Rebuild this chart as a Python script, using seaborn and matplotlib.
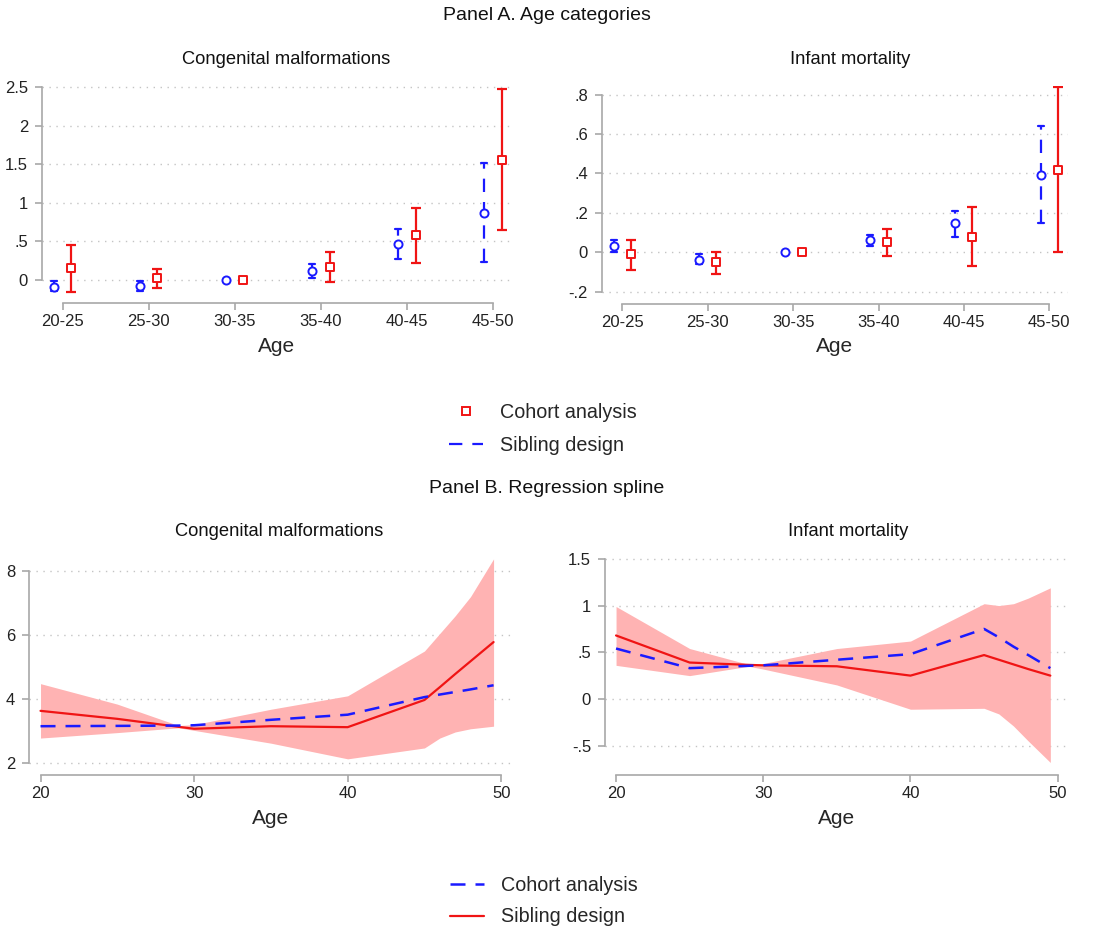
import numpy as np
import matplotlib
matplotlib.use("Agg")
import matplotlib.pyplot as plt
from matplotlib.lines import Line2D
import seaborn as sns

# Panel A: age categories, point estimates with 95% CI
age_cats = ["20-25", "25-30", "30-35", "35-40", "40-45", "45-50"]

# congenital malformations
cm_sib = [-0.09, -0.08, 0.0, 0.11, 0.47, 0.87]
cm_sib_lo = [-0.15, -0.14, 0.0, 0.02, 0.27, 0.23]
cm_sib_hi = [-0.01, -0.01, 0.0, 0.21, 0.66, 1.52]
cm_coh = [0.15, 0.02, 0.0, 0.17, 0.58, 1.56]
cm_coh_lo = [-0.16, -0.10, 0.0, -0.03, 0.22, 0.64]
cm_coh_hi = [0.45, 0.14, 0.0, 0.36, 0.93, 2.47]

# infant mortality
im_sib = [0.03, -0.04, 0.0, 0.06, 0.15, 0.39]
im_sib_lo = [0.0, -0.06, 0.0, 0.03, 0.08, 0.15]
im_sib_hi = [0.06, -0.01, 0.0, 0.09, 0.21, 0.64]
im_coh = [-0.01, -0.05, 0.0, 0.05, 0.08, 0.42]
im_coh_lo = [-0.09, -0.11, 0.0, -0.02, -0.07, 0.0]
im_coh_hi = [0.06, 0.0, 0.0, 0.12, 0.23, 0.84]

# Panel B: regression spline
ages = [20, 25, 29, 30, 35, 40, 45, 46, 47, 48, 49.5]
cm_spl_coh = [3.15, 3.16, 3.17, 3.18, 3.35, 3.51, 4.06, 4.14, 4.22, 4.30, 4.43]
cm_spl_sib = [3.63, 3.38, 3.13, 3.07, 3.15, 3.12, 3.97, 4.37, 4.78, 5.18, 5.78]
cm_spl_lo = [2.78, 2.95, 3.10, 3.02, 2.62, 2.13, 2.47, 2.78, 2.97, 3.07, 3.15]
cm_spl_hi = [4.48, 3.84, 3.17, 3.20, 3.68, 4.10, 5.50, 6.05, 6.60, 7.20, 8.38]

im_spl_coh = [0.54, 0.33, 0.355, 0.36, 0.42, 0.48, 0.75, 0.66, 0.56, 0.47, 0.33]
im_spl_sib = [0.68, 0.39, 0.365, 0.36, 0.35, 0.25, 0.47, 0.42, 0.37, 0.32, 0.25]
im_spl_lo = [0.36, 0.25, 0.35, 0.32, 0.15, -0.11, -0.10, -0.16, -0.29, -0.45, -0.68]
im_spl_hi = [0.99, 0.54, 0.37, 0.38, 0.54, 0.62, 1.02, 1.00, 1.02, 1.08, 1.19]

cm_a_ticks = [0, 0.5, 1, 1.5, 2, 2.5]
cm_a_labels = ["0", ".5", "1", "1.5", "2", "2.5"]
im_a_ticks = [-0.2, 0, 0.2, 0.4, 0.6, 0.8]
im_a_labels = ["-.2", "0", ".2", ".4", ".6", ".8"]
cm_b_ticks = [2, 4, 6, 8]
cm_b_labels = ["2", "4", "6", "8"]
im_b_ticks = [-0.5, 0, 0.5, 1, 1.5]
im_b_labels = ["-.5", "0", ".5", "1", "1.5"]
age_ticks = [20, 30, 40, 50]

BLUE = "#1a1aff"
RED = "#f01414"
BAND = "#ffb3b3"
AXC = "#a8a8a8"
SIB_DASH = (0, (6, 4.5))

sns.set_theme(style="white")
plt.rcParams["font.family"] = ["Liberation Sans", "DejaVu Sans"]

fig = plt.figure(figsize=(10.98, 9.3), dpi=100)
W, H = 1098, 930


def box(x0, y0, x1, y1):
    return [x0 / W, 1 - y1 / H, (x1 - x0) / W, (y1 - y0) / H]


def style_axis(ax, yticks, ylabels, xticks, xlabels):
    ax.set_yticks(yticks)
    ax.set_yticklabels(ylabels)
    ax.set_xticks(xticks)
    ax.set_xticklabels(xlabels)
    ax.yaxis.grid(True, linestyle=(0, (1, 4)), color="#c4c4c4", lw=1.0)
    ax.xaxis.grid(False)
    for s in ["top", "right"]:
        ax.spines[s].set_visible(False)
    for s in ["left", "bottom"]:
        ax.spines[s].set_color(AXC)
        ax.spines[s].set_linewidth(1.2)
    ax.spines["left"].set_bounds(min(yticks), max(yticks))
    ax.spines["bottom"].set_bounds(min(xticks), max(xticks))
    ax.tick_params(axis="both", which="both", direction="out", length=5, width=1.2,
                   color=AXC, labelsize=12, labelcolor="#222222", pad=3,
                   left=True, bottom=True)
    ax.tick_params(axis="y", pad=5)
    ax.set_xlabel("Age", fontsize=15, labelpad=5.5)
    ax.set_ylabel("")
    ax.set_facecolor("white")


def ci_panel(ax, est_s, lo_s, hi_s, est_c, lo_c, hi_c, ylim, yticks, ylabels):
    pos = np.arange(len(age_cats))
    xs = pos - 0.1
    xc = pos + 0.1
    # sibling design: dashed blue CIs with caps, open circles
    ax.vlines(xs, lo_s, hi_s, colors=BLUE, lw=1.6, linestyles=[SIB_DASH])
    for x, l, h in zip(xs, lo_s, hi_s):
        if h > l:
            ax.plot([x - 0.035, x + 0.035], [l, l], color=BLUE, lw=1.6)
            ax.plot([x - 0.035, x + 0.035], [h, h], color=BLUE, lw=1.6)
    sns.scatterplot(x=xs, y=est_s, ax=ax, marker="o", s=34, facecolor="white",
                    edgecolor=BLUE, linewidth=1.4, zorder=5)
    # cohort analysis: solid red CIs, open squares
    ax.errorbar(xc, est_c, yerr=[np.subtract(est_c, lo_c), np.subtract(hi_c, est_c)],
                fmt="none", ecolor=RED, elinewidth=1.6, capsize=3.5, capthick=1.6)
    sns.scatterplot(x=xc, y=est_c, ax=ax, marker="s", s=38, facecolor="white",
                    edgecolor=RED, linewidth=1.4, zorder=5)
    ax.set_xlim(-0.24, 5.22)
    ax.set_ylim(*ylim)
    style_axis(ax, yticks, ylabels, list(pos), age_cats)


def spline_panel(ax, coh, sib, lo, hi, ylim, yticks, ylabels):
    ax.fill_between(ages, lo, hi, color=BAND, lw=0, zorder=1)
    sns.lineplot(x=ages, y=sib, ax=ax, color=RED, lw=1.6, zorder=3)
    sns.lineplot(x=ages, y=coh, ax=ax, color=BLUE, lw=1.8, zorder=4,
                 linestyle=(0, (6, 4)))
    ax.set_xlim(19.25, 50.7)
    ax.set_ylim(*ylim)
    style_axis(ax, yticks, ylabels, age_ticks, [str(a) for a in age_ticks])


ax1 = fig.add_axes(box(42, 84.7, 512, 303))
ci_panel(ax1, cm_sib, cm_sib_lo, cm_sib_hi, cm_coh, cm_coh_lo, cm_coh_hi,
         (-0.30, 2.53), cm_a_ticks, cm_a_labels)
ax2 = fig.add_axes(box(602, 85.8, 1068, 303.5))
ci_panel(ax2, im_sib, im_sib_lo, im_sib_hi, im_coh, im_coh_lo, im_coh_hi,
         (-0.26, 0.845), im_a_ticks, im_a_labels)

ax3 = fig.add_axes(box(29, 557.6, 512, 775))
spline_panel(ax3, cm_spl_coh, cm_spl_sib, cm_spl_lo, cm_spl_hi,
             (1.625, 8.42), cm_b_ticks, cm_b_labels)
ax4 = fig.add_axes(box(605, 557, 1068, 775))
spline_panel(ax4, im_spl_coh, im_spl_sib, im_spl_lo, im_spl_hi,
             (-0.814, 1.52), im_b_ticks, im_b_labels)


def ftext(x, y, s, size):
    fig.text(x / W, 1 - y / H, s, ha="center", va="center", fontsize=size,
             color="#111111")


ftext(547, 16, "Panel A. Age categories", 14)
ftext(286, 60, "Congenital malformations", 13.2)
ftext(850, 60, "Infant mortality", 13.2)
ftext(547, 488, "Panel B. Regression spline", 14)
ftext(279, 532, "Congenital malformations", 13.2)
ftext(848, 532, "Infant mortality", 13.2)

# legends
legA = [Line2D([], [], color=RED, marker="s", markerfacecolor="white", markersize=6,
               markeredgewidth=1.4, linestyle="none"),
        Line2D([], [], color=BLUE, lw=1.6, linestyle=SIB_DASH)]
fig.legend(legA, ["Cohort analysis", "Sibling design"], loc="center",
           bbox_to_anchor=(543 / W, 1 - 429 / H), frameon=False, fontsize=14.2,
           handlelength=1.7, labelspacing=0.75, handletextpad=0.9)
legB = [Line2D([], [], color=BLUE, lw=1.8, linestyle=(0, (6, 4))),
        Line2D([], [], color=RED, lw=1.6)]
fig.legend(legB, ["Cohort analysis", "Sibling design"], loc="center",
           bbox_to_anchor=(544 / W, 1 - 901 / H), frameon=False, fontsize=14.2,
           handlelength=1.7, labelspacing=0.65, handletextpad=0.9)

fig.savefig("out.png", dpi=100, facecolor="white")
